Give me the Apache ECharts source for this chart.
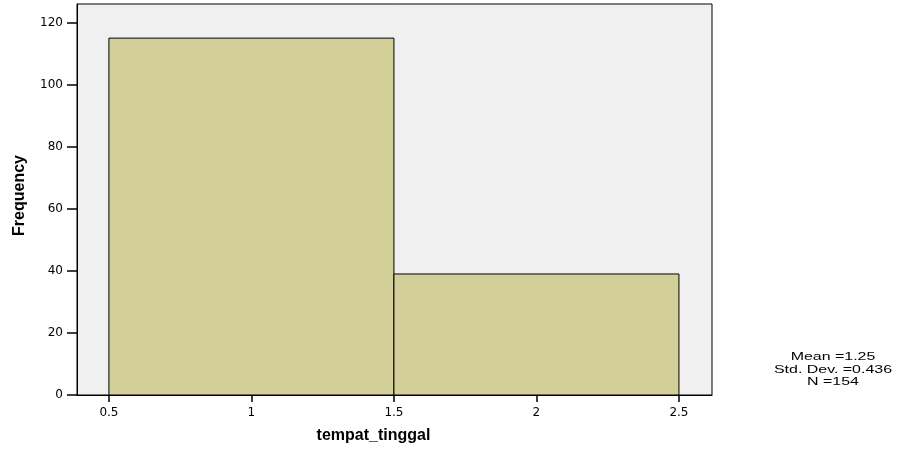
<!DOCTYPE html>
<html>
<head>
<meta charset="utf-8">
<script src="https://cdn.jsdelivr.net/npm/echarts@6/dist/echarts.min.js"></script>
<style>
html,body{margin:0;padding:0;background:#fff;}
#chartmain{width:902px;height:450px;}
</style>
</head>
<body>
<div id="chartmain"></div>
<script>
// histogram bins: [start, end, frequency]
var binStart=[0.5,1.5];
var binEnd=[1.5,2.5];
var frequency=[115,39];
var xTicks=[0.5,1,1.5,2,2.5];
var yTicks=[0,20,40,60,80,100,120];
var statLines=['Mean =1.25','Std. Dev. =0.436','N =154'];

function showchart() {
	var myChart=echarts.init(document.getElementById("chartmain"));
	var bins=[];
	for(var i=0;i<frequency.length;i++) {
		bins.push([binStart[i],binEnd[i],frequency[i]]);
	}
	var font='Liberation Sans, Arial, sans-serif';
	var tickFont='DejaVu Sans, sans-serif';
	option={
		animation:false,
		grid:{
			left:77,right:190,top:4,bottom:55,
			show:true,
			backgroundColor:'#f0f0f0',
			borderColor:'#000',
			borderWidth:1
		},
		xAxis:{
			type:'value',
			min:0.388,max:2.616,
			name:'tempat_tinggal',
			nameLocation:'middle',
			nameGap:33,
			nameTextStyle:{fontFamily:font,fontWeight:'bold',fontSize:16,color:'#000',padding:[0,42,0,0]},
			axisLine:{show:true,lineStyle:{color:'#000'}},
			axisTick:{show:true,length:7,customValues:xTicks,lineStyle:{color:'#000',width:1.5}},
			axisLabel:{customValues:xTicks,margin:12,fontFamily:tickFont,fontSize:12,color:'#000'},
			splitLine:{show:false}
		},
		yAxis:{
			type:'value',
			min:0,max:126,
			name:'Frequency',
			nameLocation:'middle',
			nameGap:49,
			nameRotate:90,
			nameTextStyle:{fontFamily:font,fontWeight:'bold',fontSize:16,color:'#000',padding:[0,0,0,8]},
			axisLine:{show:true,lineStyle:{color:'#000'}},
			axisTick:{show:true,length:10,customValues:yTicks,lineStyle:{color:'#000',width:1.5}},
			axisLabel:{customValues:yTicks,margin:14,fontFamily:tickFont,fontSize:12,color:'#000'},
			splitLine:{show:false}
		},
		series:[{
			type:'custom',
			renderItem:function(params,api) {
				var p0=api.coord([api.value(0),api.value(2)]);
				var p1=api.coord([api.value(1),0]);
				return {
					type:'rect',
					shape:{x:p0[0],y:p0[1],width:p1[0]-p0[0],height:p1[1]-p0[1]},
					style:{fill:'#d3cf99',stroke:'#000',lineWidth:1}
				};
			},
			encode:{x:[0,1],y:2},
			data:bins
		}],
		graphic:[{
			type:'text',
			x:833,y:351,
			scaleX:1.45,
			style:{
				text:statLines.join('\n'),
				align:'center',
				verticalAlign:'top',
				font:'11px '+font,
				lineHeight:12.5,
				fill:'#000'
			}
		}]
	};
	myChart.setOption(option);
}
showchart();
</script>
</body>
</html>
